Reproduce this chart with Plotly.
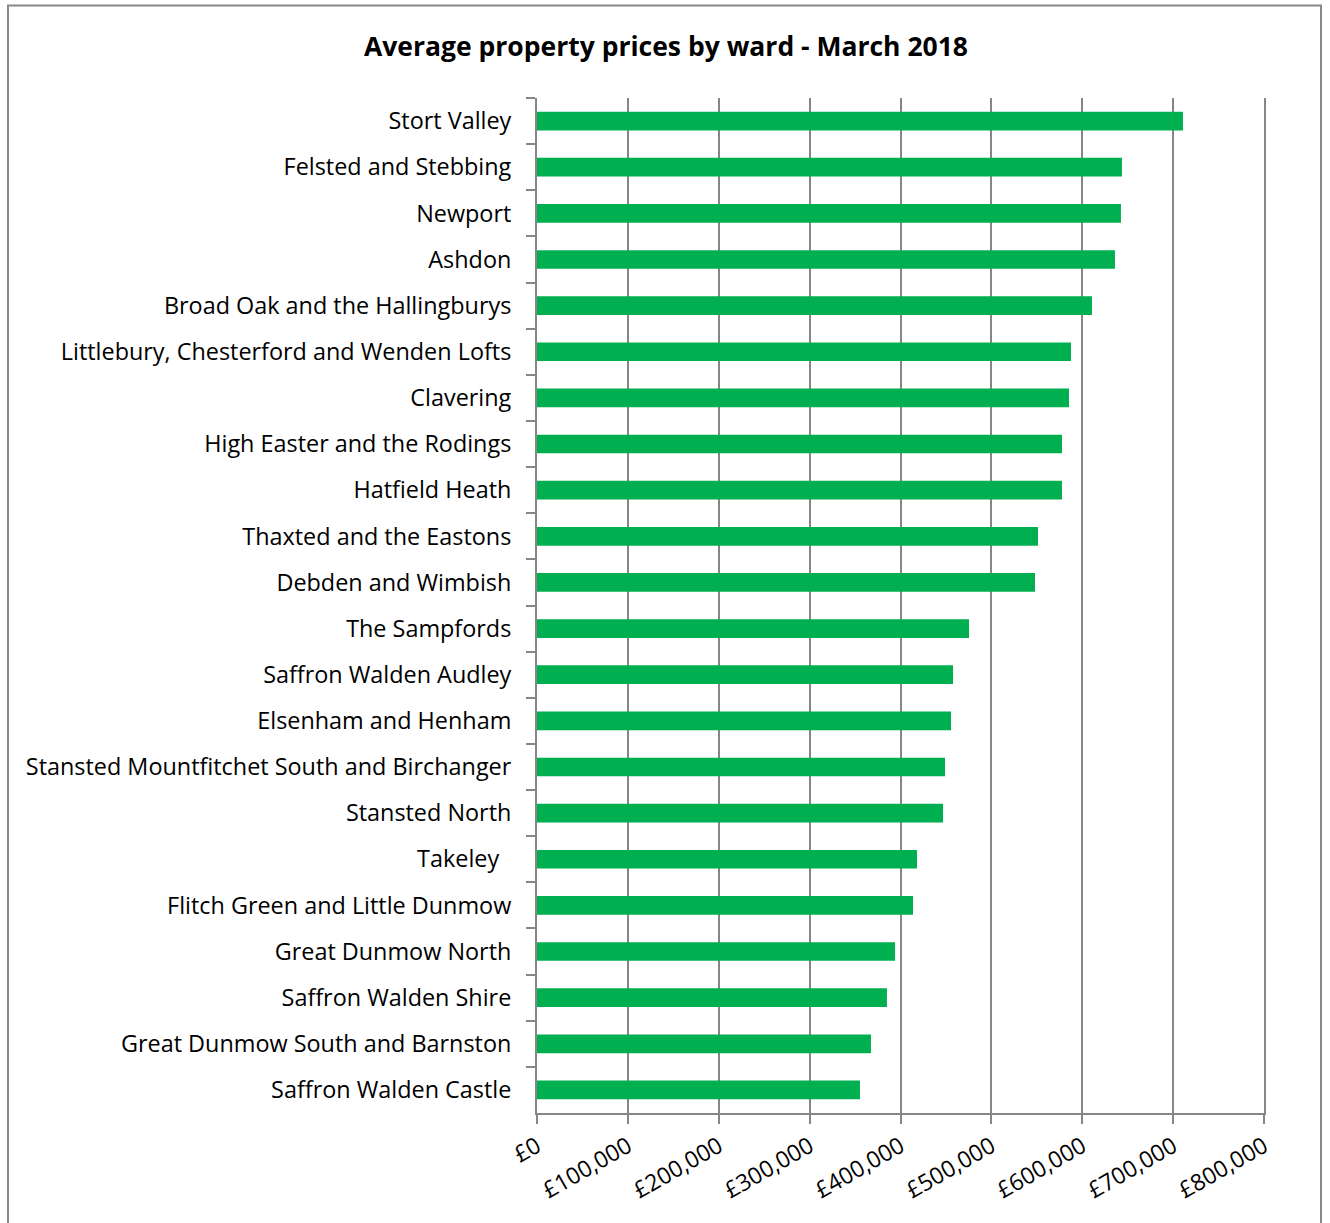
import plotly.graph_objects as go

wards = [
    "Stort Valley",
    "Felsted and Stebbing",
    "Newport",
    "Ashdon",
    "Broad Oak and the Hallingburys",
    "Littlebury, Chesterford and Wenden Lofts",
    "Clavering",
    "High Easter and the Rodings",
    "Hatfield Heath",
    "Thaxted and the Eastons",
    "Debden and Wimbish",
    "The Sampfords",
    "Saffron Walden Audley",
    "Elsenham and Henham",
    "Stansted Mountfitchet South and Birchanger",
    "Stansted North",
    "Takeley\u00a0\u00a0",
    "Flitch Green and Little Dunmow",
    "Great Dunmow North",
    "Saffron Walden Shire",
    "Great Dunmow South and Barnston",
    "Saffron Walden Castle",
]
prices = [
    710800, 643700, 642600, 636000, 610700, 587600, 585400, 577700, 577700,
    551300, 548000, 475400, 457800, 455600, 449000, 446800, 418200, 413800,
    394000, 385100, 367500, 355400,
]
x_ticks = [0, 100000, 200000, 300000, 400000, 500000, 600000, 700000, 800000]
x_labels = ["£0", "£100,000", "£200,000", "£300,000", "£400,000",
            "£500,000", "£600,000", "£700,000", "£800,000"]
title = "Average property prices by ward - March 2018"

W, H = 1330, 1223
L, R, T, B = 537, 1264, 98, 1113

fig = go.Figure(go.Bar(
    x=prices, y=wards, orientation="h",
    marker=dict(color="#00B050", line=dict(width=0)),
))

def px(xp):
    return (xp - L) / (R - L)

def py(yp):
    return (B - yp) / (B - T)

grey = "#868686"
fig.update_layout(
    width=W, height=H,
    margin=dict(l=L, r=W - R, t=T, b=H - B, autoexpand=False),
    paper_bgcolor="white", plot_bgcolor="white",
    bargap=0.595,
    showlegend=False,
    font=dict(family="Open Sans", color="black"),
    xaxis=dict(
        range=[0, 800000], tickvals=x_ticks, ticktext=x_labels,
        tickangle=-30, tickfont=dict(size=23, color="black"),
        showgrid=True, gridcolor=grey, gridwidth=2,
        showline=True, linecolor=grey, linewidth=2,
        ticks="outside", ticklen=9, tickwidth=2, tickcolor=grey,
        zeroline=False, automargin=False, fixedrange=True,
    ),
    yaxis=dict(
        type="category", autorange="reversed",
        tickfont=dict(size=23.4, color="black"),
        showgrid=False, showline=True, linecolor=grey, linewidth=2,
        mirror=True,
        ticks="outside", ticklen=9, tickwidth=2, tickcolor=grey,
        tickson="boundaries", ticklabelstandoff=19,
        automargin=False, fixedrange=True,
    ),
    shapes=[dict(
        type="rect", xref="paper", yref="paper",
        x0=px(8), x1=px(1321), y0=py(1240), y1=py(5.5),
        line=dict(color="#888888", width=2), fillcolor="rgba(0,0,0,0)",
        layer="below",
    )],
    annotations=[dict(
        text="<b>" + title + "</b>", xref="paper", yref="paper",
        x=px(666), y=py(46), xanchor="center", yanchor="middle",
        showarrow=False, font=dict(size=26.5, color="black", family="Open Sans"),
    )],
)

fig.write_html("out.html")
